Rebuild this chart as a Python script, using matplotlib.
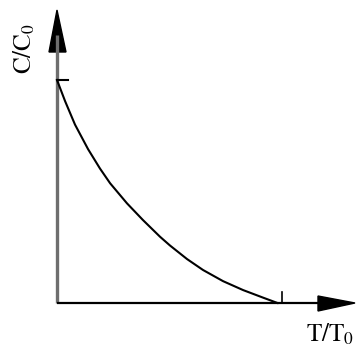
import numpy as np
import matplotlib.pyplot as plt

plt.rcParams["mathtext.fontset"] = "stix"

# curve (T/T0, C/C0)
t_vals = [0.0, 0.036, 0.08, 0.138, 0.191, 0.236, 0.311, 0.382, 0.458,
          0.502, 0.578, 0.649, 0.738, 0.827, 0.916, 0.98]
c_vals = [1.0, 0.905, 0.80, 0.69, 0.603, 0.537, 0.447, 0.372, 0.297,
          0.258, 0.197, 0.148, 0.098, 0.058, 0.024, 0.0]

fig = plt.figure(figsize=(3.56, 3.47), dpi=100)
ax = fig.add_axes([0, 0, 1, 1])
# pixel mapping: x=0 at 57px, x=1 at 282px; y=0 at 303px, y=1 at 80px
ax.set_xlim(-57 / 225, 299 / 225)
ax.set_ylim((303 - 347) / 223, 303 / 223)
ax.axis("off")

# axes
ax.plot([0, 0], [0, 1.2], color="#6e6e6e", lw=2.4, solid_capstyle="butt")
ax.plot([0, 1.18], [0, 0], color="black", lw=1.6, solid_capstyle="butt")
ax.fill([-8 / 225, 0, 9 / 225], [251 / 223, 293 / 223, 251 / 223], color="black")
ax.fill([261 / 225, 298 / 225, 261 / 225], [7 / 223, 0, -8 / 223], color="black")

# ticks
ax.plot([0, 11 / 225], [1, 1], color="black", lw=1.5)
ax.plot([1, 1], [0, 11 / 223], color="black", lw=1.2)

ax.plot(t_vals, c_vals, color="black", lw=1.5)

ax.text(-33 / 225, 1.14, r"$\mathrm{C/C_0}$", rotation=90, fontsize=18, ha="center", va="center")
ax.text(1.215, -0.14, r"$\mathrm{T/T_0}$", fontsize=18, ha="center", va="center")

fig.savefig("out.png", dpi=100)
